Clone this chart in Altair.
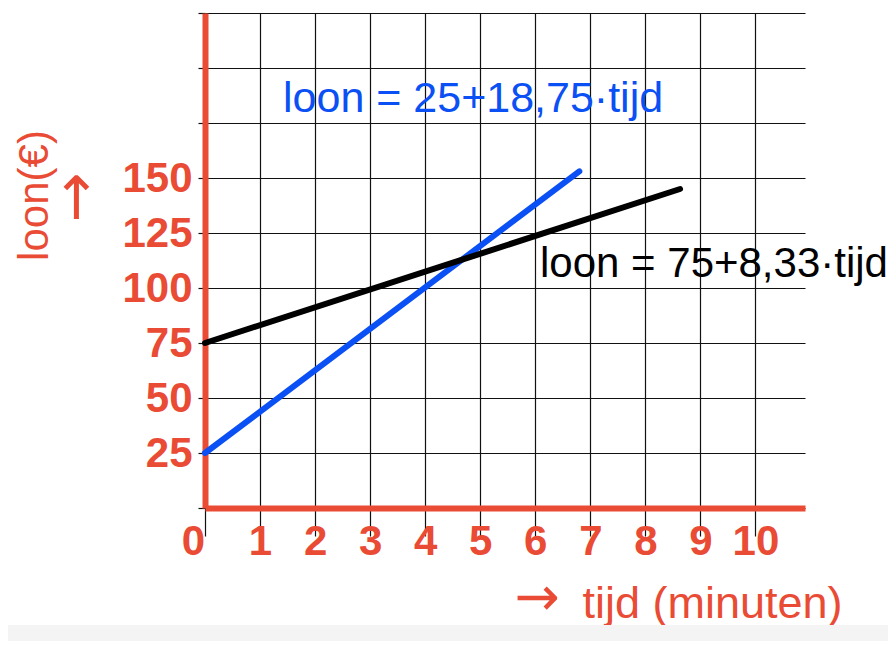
import altair as alt
import pandas as pd

RED = "#e94b35"
BLUE = "#0a50f5"
BLACK = "#000000"
GRID = "#111111"
FONT = "Liberation Sans"
ARROW_FONT = "DejaVu Sans"

# --- data ---
series = ["blauw", "zwart"]
tijd_blauw = [0, 6.8]
loon_blauw = [25, 153]
tijd_zwart = [0, 8.63]
loon_zwart = [75, 145]

x_ticks = list(range(0, 11))
y_ticks = list(range(0, 226, 25))

formula_blauw = "loon = 25+18,75·tijd"
formula_zwart = "loon = 75+8,33·tijd"
y_title = "loon(€)"
x_title = "tijd (minuten)"
arrow = "→"

df = pd.DataFrame({
    "reeks": [series[0]] * len(tijd_blauw) + [series[1]] * len(tijd_zwart),
    "tijd": tijd_blauw + tijd_zwart,
    "loon": loon_blauw + loon_zwart,
})

x_axis = alt.Axis(
    values=x_ticks, grid=True, gridColor=GRID, gridWidth=1.2,
    domainColor=RED, domainWidth=6,
    tickColor=GRID, tickWidth=1.2, tickSize=28,
    labelColor=RED, labelFont=FONT, labelFontSize=42, labelFontWeight="bold",
    labelPadding=-15, labelBaseline="top", labelFlush=False, labelOverlap=False,
    labelOffset={"condition": {"test": "datum.value == 0", "value": -12}, "value": 0},
    title=x_title, titleColor=RED, titleFont=FONT, titleFontSize=45,
    titleFontWeight="normal", titleX=377, titleY=95, titleAlign="left",
    titleBaseline="middle",
)

y_axis = alt.Axis(
    values=y_ticks, grid=True, gridColor=GRID, gridWidth=1.2,
    domainColor=RED, domainWidth=6,
    tickColor=GRID, tickWidth=1.2, tickSize=7,
    labelColor=RED, labelFont=FONT, labelFontSize=42, labelFontWeight="bold",
    labelPadding=6, labelFlush=False, labelOverlap=False,
    labelExpr="datum.value > 0 && datum.value <= 150 ? datum.label : ''",
    title=y_title, titleColor=RED, titleFont=FONT, titleFontSize=42,
    titleFontWeight="normal", titleX=-171, titleY=182, titleAngle=270,
    titleAlign="center", titleBaseline="middle",
)

band = alt.Chart(pd.DataFrame({"a": [0]})).mark_rect(color="#f4f4f4").encode(
    x=alt.value(-197), x2=alt.value(683), y=alt.value(612), y2=alt.value(628)
)

lines = alt.Chart(df).mark_line(strokeWidth=6, strokeCap="round").encode(
    x=alt.X("tijd:Q", scale=alt.Scale(domain=[0, 10.9], nice=False, zero=False), axis=x_axis),
    y=alt.Y("loon:Q", scale=alt.Scale(domain=[0, 225], nice=False), axis=y_axis),
    color=alt.Color("reeks:N", scale=alt.Scale(domain=series, range=[BLUE, BLACK]), legend=None),
)


def txt(label, x, y, color, size=41, angle=0, align="left", baseline="alphabetic", font=FONT):
    return alt.Chart(pd.DataFrame({"t": [label]})).mark_text(
        align=align, baseline=baseline, font=font, fontSize=size, color=color, angle=angle
    ).encode(text="t:N", x=alt.value(x), y=alt.value(y))


t_blauw = txt(formula_blauw, 78, 99, BLUE, size=43)
t_zwart = txt(formula_zwart, 335, 264, BLACK, size=42)
t_yarrow = txt(arrow, -128, 184, RED, size=60, angle=270, align="center",
               baseline="middle", font=ARROW_FONT)
t_xarrow = txt(arrow, 332, 586, RED, size=54, align="center",
               baseline="middle", font=ARROW_FONT)

chart = alt.layer(band, lines, t_blauw, t_zwart, t_yarrow, t_xarrow).properties(
    width=600, height=495,
    padding={"left": 197, "top": 5, "right": 83, "bottom": 133},
    autosize="none",
).configure_view(stroke=None)

chart.save("out.html", embed_options={"renderer": "svg", "actions": False})
